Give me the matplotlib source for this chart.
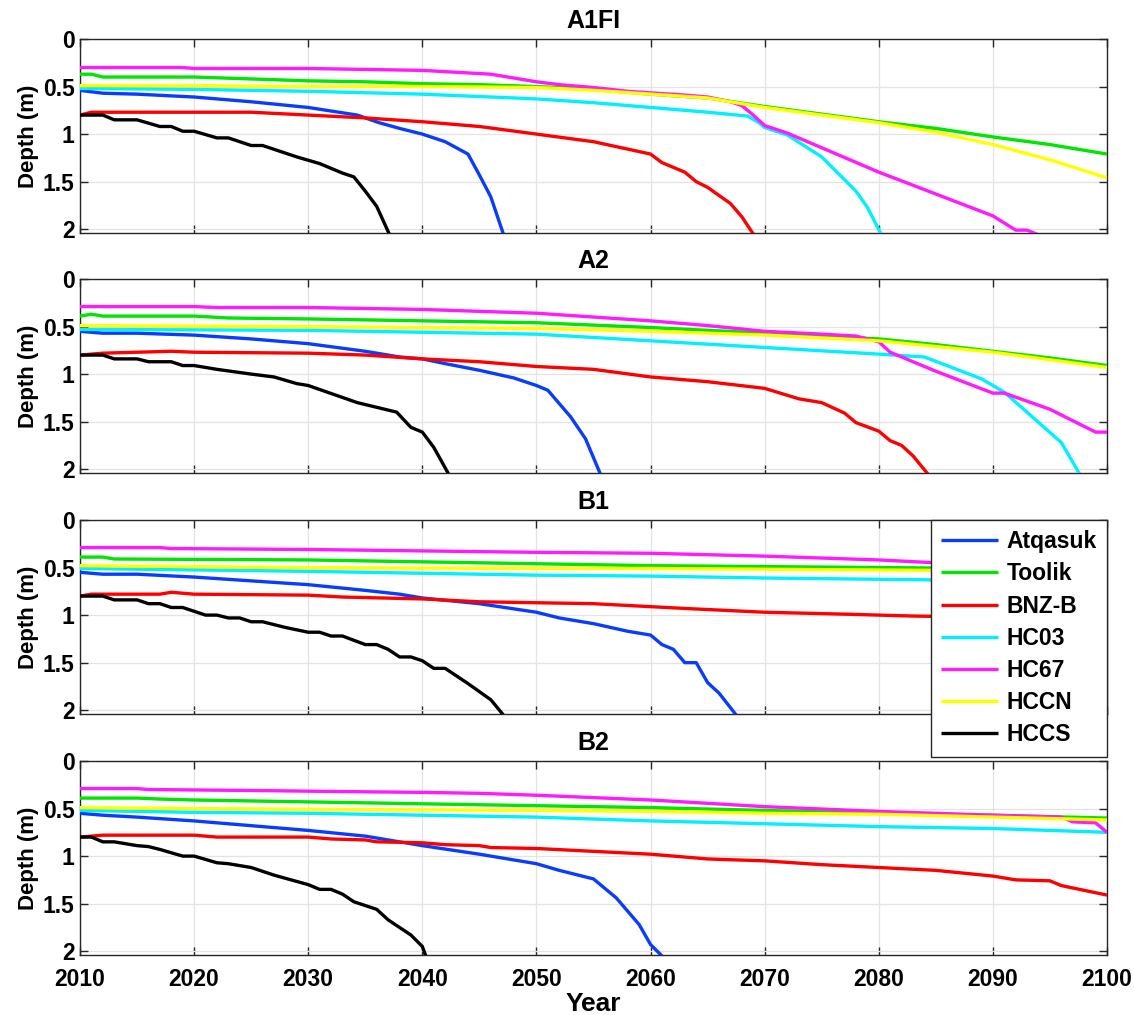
import matplotlib
matplotlib.use("Agg")
import matplotlib.pyplot as plt
from matplotlib.ticker import FuncFormatter

plt.rcParams['font.family'] = ['Liberation Sans', 'DejaVu Sans']
plt.rcParams['font.weight'] = 'bold'

# ---------------- data ----------------
scenarios = ["A1FI", "A2", "B1", "B2"]
sites = ["Atqasuk", "Toolik", "BNZ-B", "HC03", "HC67", "HCCN", "HCCS"]
site_colors = ["#0a3cff", "#00e600", "#ff0000", "#00f0ff", "#ff1aff", "#ffff00", "#000000"]

x_ticks = [2010, 2020, 2030, 2040, 2050, 2060, 2070, 2080, 2090, 2100]
y_ticks = [0, 0.5, 1, 1.5, 2]

# A1FI
a1fi_atq_x = [2010, 2012, 2015, 2020, 2025, 2030, 2034.3, 2036.2, 2038, 2040, 2042, 2044, 2045, 2046, 2047.1]
a1fi_atq_y = [0.54, 0.57, 0.58, 0.61, 0.66, 0.72, 0.80, 0.88, 0.94, 1.00, 1.08, 1.21, 1.43, 1.66, 2.05]
a1fi_too_x = [2010, 2011, 2012, 2020, 2025, 2030, 2035, 2040, 2045, 2050, 2055, 2060, 2065, 2070, 2075, 2080, 2085, 2090, 2095, 2100]
a1fi_too_y = [0.37, 0.37, 0.40, 0.40, 0.42, 0.44, 0.45, 0.47, 0.48, 0.50, 0.53, 0.58, 0.62, 0.71, 0.79, 0.87, 0.94, 1.03, 1.11, 1.21]
a1fi_bnz_x = [2010, 2011, 2020, 2025, 2030, 2035, 2040, 2045, 2050, 2055, 2060, 2061, 2063, 2064, 2065, 2067, 2068, 2069]
a1fi_bnz_y = [0.80, 0.77, 0.77, 0.77, 0.80, 0.83, 0.87, 0.92, 1.00, 1.08, 1.21, 1.30, 1.40, 1.50, 1.56, 1.73, 1.87, 2.05]
a1fi_hc03_x = [2010, 2020, 2030, 2040, 2050, 2055, 2060, 2065, 2068.5, 2069.5, 2070, 2072, 2075, 2078, 2079, 2080.2]
a1fi_hc03_y = [0.52, 0.53, 0.55, 0.58, 0.63, 0.67, 0.72, 0.77, 0.81, 0.88, 0.93, 1.01, 1.24, 1.60, 1.77, 2.05]
a1fi_hc67_x = [2010, 2019, 2020, 2030, 2035, 2040, 2043, 2046, 2048, 2050, 2052, 2055, 2058, 2063, 2065, 2067, 2068, 2069, 2070, 2072, 2080, 2090, 2092, 2093, 2094]
a1fi_hc67_y = [0.30, 0.30, 0.31, 0.31, 0.32, 0.33, 0.35, 0.37, 0.41, 0.45, 0.48, 0.51, 0.55, 0.59, 0.61, 0.66, 0.70, 0.80, 0.91, 0.99, 1.40, 1.86, 2.01, 2.01, 2.06]
a1fi_hccn_x = [2010, 2020, 2030, 2040, 2050, 2055, 2060, 2065, 2068, 2070, 2075, 2080, 2085, 2090, 2095, 2100]
a1fi_hccn_y = [0.49, 0.49, 0.50, 0.50, 0.51, 0.54, 0.58, 0.62, 0.68, 0.72, 0.80, 0.88, 0.98, 1.11, 1.27, 1.46]
a1fi_hccs_x = [2010, 2012, 2013, 2015, 2017, 2018, 2019, 2020, 2022, 2023, 2025, 2026, 2028, 2029, 2031, 2033, 2034, 2035, 2036, 2037.1]
a1fi_hccs_y = [0.80, 0.80, 0.85, 0.85, 0.92, 0.92, 0.97, 0.97, 1.04, 1.04, 1.12, 1.12, 1.20, 1.24, 1.31, 1.41, 1.45, 1.60, 1.76, 2.05]

# A2
a2_atq_x = [2010, 2012, 2015, 2020, 2025, 2030, 2035, 2038, 2040, 2042, 2045, 2048, 2050, 2051, 2052, 2053, 2054.3, 2055.6]
a2_atq_y = [0.55, 0.57, 0.57, 0.59, 0.63, 0.68, 0.76, 0.82, 0.84, 0.89, 0.96, 1.04, 1.12, 1.17, 1.31, 1.45, 1.68, 2.05]
a2_too_x = [2010, 2011, 2012, 2020, 2023, 2030, 2040, 2050, 2060, 2070, 2080, 2085, 2090, 2095, 2100]
a2_too_y = [0.39, 0.37, 0.39, 0.39, 0.41, 0.42, 0.44, 0.46, 0.51, 0.57, 0.63, 0.69, 0.76, 0.83, 0.91]
a2_bnz_x = [2010, 2012, 2018, 2020, 2030, 2035, 2040, 2045, 2050, 2055, 2060, 2065, 2070, 2073, 2075, 2077, 2078, 2080, 2081, 2082, 2083, 2084.3]
a2_bnz_y = [0.80, 0.78, 0.76, 0.77, 0.78, 0.80, 0.84, 0.87, 0.92, 0.95, 1.03, 1.08, 1.15, 1.26, 1.30, 1.41, 1.51, 1.60, 1.70, 1.75, 1.86, 2.05]
a2_hc03_x = [2010, 2030, 2040, 2050, 2060, 2070, 2080, 2084, 2089, 2091, 2096, 2097.6]
a2_hc03_y = [0.53, 0.54, 0.56, 0.58, 0.65, 0.72, 0.79, 0.82, 1.05, 1.19, 1.72, 2.05]
a2_hc67_x = [2010, 2020, 2022, 2030, 2040, 2050, 2060, 2065, 2070, 2075, 2078, 2080, 2081, 2085, 2090, 2091, 2095, 2099, 2100]
a2_hc67_y = [0.29, 0.29, 0.30, 0.30, 0.32, 0.36, 0.44, 0.49, 0.55, 0.58, 0.60, 0.66, 0.77, 0.97, 1.20, 1.20, 1.37, 1.61, 1.61]
a2_hccn_x = [2010, 2030, 2050, 2060, 2070, 2080, 2090, 2100]
a2_hccn_y = [0.49, 0.50, 0.52, 0.55, 0.59, 0.65, 0.77, 0.93]
a2_hccs_x = [2010, 2012, 2013, 2015, 2016, 2018, 2019, 2020, 2022, 2025, 2027, 2029, 2030, 2034.3, 2037.75, 2039, 2040, 2041, 2042.3]
a2_hccs_y = [0.80, 0.80, 0.84, 0.84, 0.87, 0.87, 0.91, 0.91, 0.95, 1.00, 1.03, 1.10, 1.12, 1.30, 1.40, 1.56, 1.61, 1.77, 2.05]

# B1
b1_atq_x = [2010, 2012, 2015, 2020, 2025, 2030, 2035, 2038, 2040, 2045, 2050, 2052, 2055, 2058, 2060, 2061, 2062, 2063, 2064, 2065, 2066, 2067.5]
b1_atq_y = [0.55, 0.57, 0.57, 0.60, 0.64, 0.68, 0.74, 0.78, 0.82, 0.88, 0.97, 1.03, 1.09, 1.17, 1.21, 1.31, 1.36, 1.50, 1.50, 1.71, 1.82, 2.05]
b1_too_x = [2010, 2012, 2013, 2030, 2040, 2050, 2060, 2070, 2080, 2090, 2100]
b1_too_y = [0.39, 0.39, 0.41, 0.42, 0.44, 0.46, 0.48, 0.49, 0.50, 0.51, 0.52]
b1_bnz_x = [2010, 2011, 2017, 2018, 2020, 2030, 2033, 2040, 2045, 2050, 2055, 2063, 2070, 2077, 2083, 2100]
b1_bnz_y = [0.80, 0.78, 0.78, 0.76, 0.78, 0.79, 0.81, 0.83, 0.86, 0.87, 0.88, 0.93, 0.97, 0.99, 1.01, 1.04]
b1_hc03_x = [2010, 2030, 2050, 2060, 2070, 2085, 2100]
b1_hc03_y = [0.51, 0.54, 0.58, 0.59, 0.61, 0.63, 0.65]
b1_hc67_x = [2010, 2017, 2018, 2030, 2050, 2060, 2070, 2080, 2085, 2100]
b1_hc67_y = [0.29, 0.29, 0.30, 0.31, 0.34, 0.35, 0.38, 0.42, 0.45, 0.52]
b1_hccn_x = [2010, 2030, 2050, 2060, 2085, 2100]
b1_hccn_y = [0.48, 0.50, 0.51, 0.51, 0.53, 0.54]
b1_hccs_x = [2010, 2012, 2013, 2015, 2016, 2017, 2018, 2019, 2021, 2022, 2023, 2024, 2025, 2026, 2028, 2030, 2031, 2032, 2033, 2035, 2036, 2037, 2038, 2039, 2040, 2041, 2042, 2044, 2046, 2047.1]
b1_hccs_y = [0.80, 0.80, 0.84, 0.84, 0.88, 0.88, 0.92, 0.92, 1.00, 1.00, 1.03, 1.03, 1.07, 1.07, 1.13, 1.18, 1.18, 1.22, 1.22, 1.31, 1.31, 1.36, 1.44, 1.44, 1.48, 1.56, 1.56, 1.72, 1.89, 2.05]

# B2
b2_atq_x = [2010, 2012, 2015, 2020, 2025, 2030, 2035, 2038, 2040, 2045, 2050, 2052, 2053, 2055, 2057, 2059, 2060, 2061]
b2_atq_y = [0.55, 0.57, 0.59, 0.63, 0.68, 0.73, 0.79, 0.85, 0.89, 0.98, 1.08, 1.15, 1.18, 1.24, 1.44, 1.72, 1.93, 2.05]
b2_too_x = [2010, 2015, 2017, 2020, 2025, 2030, 2040, 2050, 2060, 2070, 2080, 2090, 2100]
b2_too_y = [0.39, 0.39, 0.40, 0.41, 0.42, 0.43, 0.45, 0.47, 0.49, 0.52, 0.55, 0.57, 0.60]
b2_bnz_x = [2010, 2012, 2020, 2022, 2030, 2032, 2035, 2036, 2040, 2042, 2045, 2046, 2050, 2055, 2060, 2065, 2070, 2075, 2080, 2085, 2090, 2092, 2095, 2096, 2098, 2100]
b2_bnz_y = [0.80, 0.78, 0.78, 0.80, 0.80, 0.82, 0.83, 0.85, 0.86, 0.88, 0.89, 0.91, 0.92, 0.95, 0.98, 1.03, 1.05, 1.09, 1.12, 1.15, 1.21, 1.25, 1.26, 1.31, 1.36, 1.41]
b2_hc03_x = [2010, 2020, 2030, 2040, 2050, 2060, 2070, 2080, 2090, 2100]
b2_hc03_y = [0.52, 0.54, 0.55, 0.57, 0.59, 0.63, 0.66, 0.69, 0.71, 0.75]
b2_hc67_x = [2010, 2015, 2016, 2025, 2032, 2040, 2045, 2050, 2060, 2070, 2080, 2090, 2096, 2097, 2099, 2100]
b2_hc67_y = [0.29, 0.29, 0.30, 0.31, 0.32, 0.33, 0.34, 0.36, 0.41, 0.48, 0.53, 0.57, 0.59, 0.64, 0.65, 0.75]
b2_hccn_x = [2010, 2020, 2050, 2060, 2070, 2080, 2090, 2100]
b2_hccn_y = [0.49, 0.50, 0.52, 0.53, 0.55, 0.56, 0.59, 0.62]
b2_hccs_x = [2010, 2011, 2012, 2013, 2015, 2016, 2017, 2019, 2020, 2022, 2023, 2025, 2027, 2030, 2031, 2032, 2033, 2034, 2035, 2036, 2037, 2038, 2039, 2040, 2040.3]
b2_hccs_y = [0.80, 0.80, 0.85, 0.85, 0.89, 0.90, 0.93, 1.00, 1.00, 1.07, 1.08, 1.12, 1.20, 1.30, 1.35, 1.35, 1.40, 1.48, 1.52, 1.56, 1.67, 1.75, 1.83, 1.95, 2.05]

series = {
    "A1FI": [(a1fi_atq_x, a1fi_atq_y), (a1fi_too_x, a1fi_too_y), (a1fi_bnz_x, a1fi_bnz_y),
             (a1fi_hc03_x, a1fi_hc03_y), (a1fi_hc67_x, a1fi_hc67_y), (a1fi_hccn_x, a1fi_hccn_y),
             (a1fi_hccs_x, a1fi_hccs_y)],
    "A2": [(a2_atq_x, a2_atq_y), (a2_too_x, a2_too_y), (a2_bnz_x, a2_bnz_y),
           (a2_hc03_x, a2_hc03_y), (a2_hc67_x, a2_hc67_y), (a2_hccn_x, a2_hccn_y),
           (a2_hccs_x, a2_hccs_y)],
    "B1": [(b1_atq_x, b1_atq_y), (b1_too_x, b1_too_y), (b1_bnz_x, b1_bnz_y),
           (b1_hc03_x, b1_hc03_y), (b1_hc67_x, b1_hc67_y), (b1_hccn_x, b1_hccn_y),
           (b1_hccs_x, b1_hccs_y)],
    "B2": [(b2_atq_x, b2_atq_y), (b2_too_x, b2_too_y), (b2_bnz_x, b2_bnz_y),
           (b2_hc03_x, b2_hc03_y), (b2_hc67_x, b2_hc67_y), (b2_hccn_x, b2_hccn_y),
           (b2_hccs_x, b2_hccs_y)],
}

# ---------------- figure ----------------
W, H = 1134, 1015
fig = plt.figure(figsize=(W / 100, H / 100), dpi=100)

left_px, right_px = 80, 1107
tops_px = [39, 279, 520, 761]
panel_h = 194

draw_order = [5, 1, 3, 4, 0, 2, 6]

axes = []
handles = {}
for i, scen in enumerate(scenarios):
    top = tops_px[i]
    ax = fig.add_axes([left_px / W, (H - top - panel_h) / H,
                       (right_px - left_px) / W, panel_h / H])
    axes.append(ax)
    for k in draw_order:
        xs, ys = series[scen][k]
        ln, = ax.plot(xs, ys, color=site_colors[k], lw=2.4, solid_joinstyle='round',
                      solid_capstyle='butt', zorder=3 + k * 0.01)
        handles[k] = ln
    ax.set_xlim(2010, 2100)
    ax.set_ylim(2.04, 0)
    ax.set_xticks(x_ticks)
    ax.set_yticks(y_ticks)
    ax.yaxis.set_major_formatter(FuncFormatter(lambda v, p: ("%g" % v)))
    ax.grid(True, color='#e3e3e3', lw=0.9, zorder=0)
    ax.set_axisbelow(True)
    ax.tick_params(direction='in', length=6, width=1.0, top=True, right=True,
                   labelsize=16.5, colors='#262626', labelcolor='black')
    ax.tick_params(axis='x', pad=9)
    ax.tick_params(axis='y', pad=4)
    for s in ax.spines.values():
        s.set_color('#262626')
        s.set_linewidth(1.0)
    for lab in ax.get_xticklabels() + ax.get_yticklabels():
        lab.set_fontweight('bold')
    ax.set_ylabel("Depth (m)", fontsize=16, fontweight='bold', labelpad=3)
    ax.set_title(scen, fontsize=18, fontweight='bold', pad=8)
    if i < 3:
        ax.tick_params(labelbottom=False)

axes[-1].set_xlabel("Year", fontsize=19, fontweight='bold', labelpad=1)

leg = fig.legend([handles[k] for k in range(7)], sites,
                 loc='upper right',
                 bbox_to_anchor=(right_px / W, (H - tops_px[2]) / H),
                 prop={'weight': 'bold', 'size': 16.5},
                 frameon=True, fancybox=False, framealpha=1, edgecolor='#262626',
                 borderpad=0.45, labelspacing=0.40, handlelength=2.5, handletextpad=0.35,
                 borderaxespad=0.0)
leg.get_frame().set_linewidth(1.0)
leg.set_zorder(10)

fig.savefig("out.png", dpi=100)
